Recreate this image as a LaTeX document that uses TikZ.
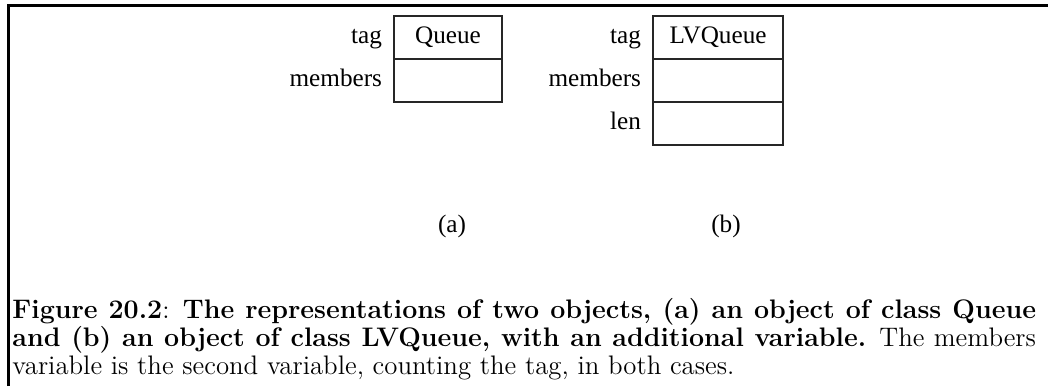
\documentclass[tikz,border=0pt]{standalone}
\usepackage{fontspec}
\newfontfamily\tms{Liberation Serif}
\begin{document}
\begin{tikzpicture}[x=0.4367pt,y=-0.4367pt,
  cell/.style={draw=black!85, line width=0.5pt, inner sep=0pt,
    minimum width=108*0.4367pt, minimum height=43*0.4367pt,
    font=\tms\fontsize{11}{13}\selectfont, text height=0.7em, text depth=0.2em},
  wcell/.style={cell, minimum width=130*0.4367pt},
  lbl/.style={inner sep=0pt, anchor=east,
    font=\tms\fontsize{11}{13}\selectfont, text height=0.7em, text depth=0.2em},
  sub/.style={inner sep=0pt, anchor=base, font=\tms\fontsize{11}{13}\selectfont},
  frame/.style={line width=1.1pt}]
\useasboundingbox (0,0) rectangle (1048,386);
\draw[frame] (8.5,386) -- (8.5,5.5) -- (1048,5.5);
% (a) Queue object
\node[cell] (q1) at (448,37.5) {Queue};
\node[cell] (q2) at (448,80.5) {};
\node[lbl] (qt) at ([xshift=-11*0.4367pt]q1.west) {tag};
\node[lbl] (qm) at ([xshift=-11*0.4367pt]q2.west) {members};
% (b) LVQueue object
\node[wcell] (l1) at (718,37.5) {LVQueue};
\node[wcell] (l2) at (718,80.5) {};
\node[wcell] (l3) at (718,123.5) {};
\node[lbl] (lt) at ([xshift=-11*0.4367pt]l1.west) {tag};
\node[lbl] (lm) at ([xshift=-11*0.4367pt]l2.west) {members};
\node[lbl] (ll) at ([xshift=-11*0.4367pt]l3.west) {len};
% sub-labels
\node[sub] (la) at (452,232) {(a)};
\node[sub] (lb) at (726,232) {(b)};
% caption
\node[anchor=north west, inner sep=0pt, text width=447pt, align=justify,
  font=\fontsize{11.7}{12.3}\selectfont] (cap) at (12,298)
  {\textbf{Figure 20.2}: \textbf{The representations of two objects, (a) an object of class Queue\linebreak and (b) an object of class LVQueue, with an additional variable.} The members\linebreak variable is the second variable, counting the tag, in both cases.};
\end{tikzpicture}
\end{document}
